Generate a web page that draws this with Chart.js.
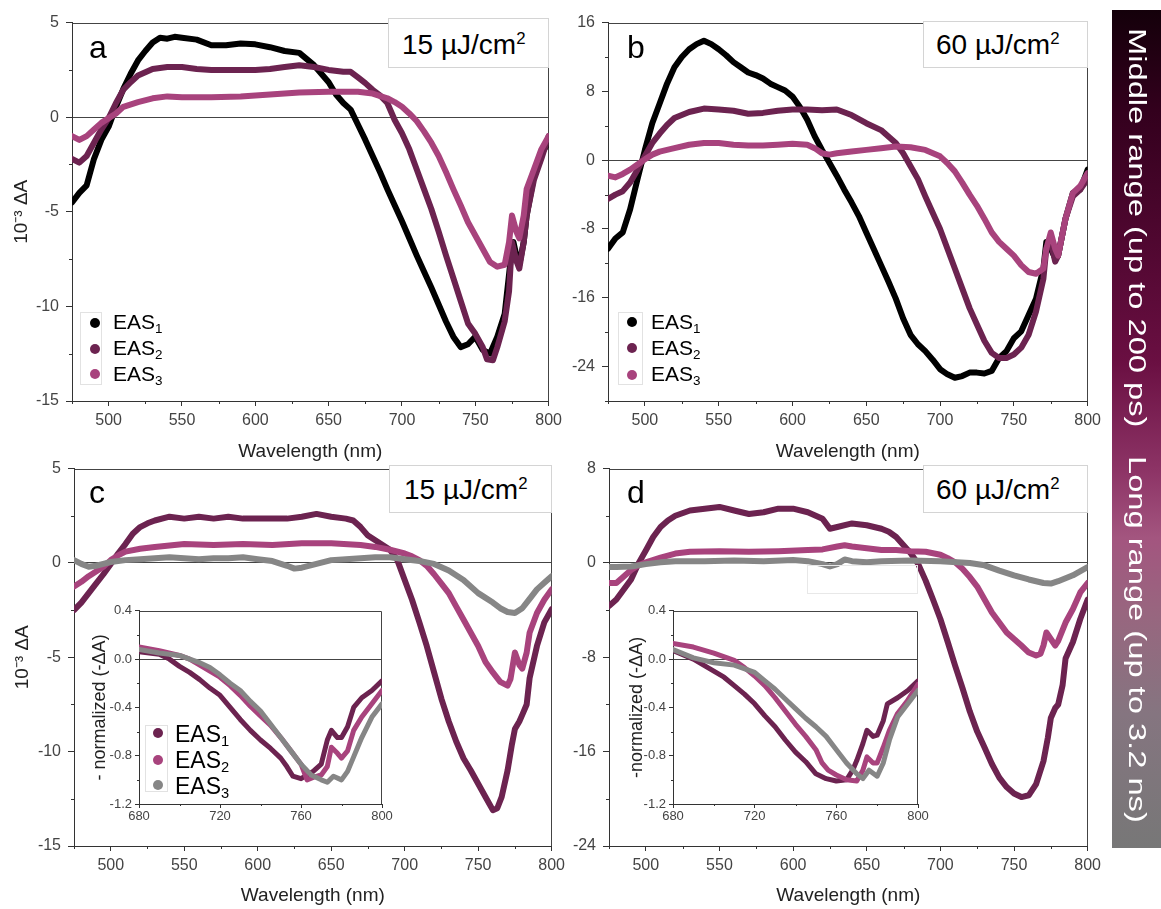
<!DOCTYPE html>
<html><head><meta charset="utf-8">
<script src="https://cdn.jsdelivr.net/npm/chart.js@4.4.1/dist/chart.umd.min.js"></script>
<style>
html,body{margin:0;padding:0;background:#fff;}
body{width:1161px;height:909px;position:relative;overflow:hidden;font-family:"Liberation Sans",Arial,sans-serif;}
canvas{position:absolute;}
.t{position:absolute;white-space:nowrap;line-height:1;color:#000;}
.box{position:absolute;box-sizing:border-box;background:#fff;}
.sub{font-size:0.64em;position:relative;top:0.28em;}
.sup{font-size:0.6em;position:relative;top:-0.62em;}
.dot{position:absolute;width:10px;height:10px;border-radius:50%;}
#cbar{position:absolute;left:1112px;top:10px;width:49px;height:838px;
 background:linear-gradient(to bottom,#14000a 0%,#33001d 12%,#540833 30%,#6a0f42 42%,#8d3466 55%,#a3557f 63%,#98667f 72%,#857580 84%,#777777 100%);}
.vt{position:absolute;writing-mode:vertical-rl;color:#fff;font-family:"Liberation Sans",Arial,sans-serif;font-size:23px;line-height:30px;width:30px;white-space:nowrap;transform-origin:50% 0;transform:scaleY(1.42);}
</style></head><body>
<script>
// ---------------- DATA ----------------
// Panel a (15 uJ/cm2, middle range)
const aX1=[475,480,485,490,495,500,505,510,515,520,525,530,535,540,545,550,560,570,580,590,600,610,620,630,640,650,655,660,665,670,675,680,685,690,695,700,705,710,715,720,725,730,735,740,745,750,755,760,765,770,772,774,776,778,780,783,785,790,795,800];
const aY1=[-4.5,-4.0,-3.6,-2.2,-1.2,-0.5,0.55,1.5,2.3,3.0,3.5,3.95,4.2,4.15,4.25,4.2,4.1,3.8,3.8,3.9,3.85,3.7,3.5,3.4,2.75,1.85,1.2,0.75,0.4,-0.4,-1.2,-2.05,-2.9,-3.8,-4.65,-5.5,-6.4,-7.3,-8.15,-9.0,-9.9,-10.8,-11.6,-12.15,-12.0,-11.6,-12.3,-12.5,-11.6,-10.4,-9.0,-7.6,-6.6,-7.3,-7.8,-6.6,-5.2,-3.1,-1.9,-1.35];
const aX2=[475,480,485,490,495,500,505,510,515,520,530,540,550,560,570,580,590,600,610,620,630,640,650,660,665,670,675,680,685,690,695,700,705,710,715,720,725,730,735,740,745,750,755,758,762,765,770,773,775,778,780,783,785,790,795,800];
const aY2=[-2.2,-2.4,-2.05,-1.35,-0.65,-0.05,0.75,1.45,1.85,2.2,2.55,2.65,2.65,2.55,2.5,2.5,2.5,2.5,2.55,2.65,2.75,2.65,2.5,2.4,2.4,2.1,1.8,1.45,1.15,0.75,-0.15,-0.85,-1.7,-2.75,-3.8,-4.85,-6.05,-7.3,-8.5,-9.7,-10.9,-11.45,-12.15,-12.8,-12.85,-12.15,-10.8,-9.2,-6.6,-7.6,-8.0,-6.6,-5.2,-3.3,-2.2,-1.0];
const aX3=[475,480,485,490,495,500,505,510,520,530,540,550,570,590,610,630,650,670,680,690,695,700,705,710,715,720,725,730,735,740,745,750,755,760,765,770,773,775,778,780,783,785,790,795,800];
const aY3=[-1.0,-1.2,-1.0,-0.65,-0.3,-0.05,0.2,0.55,0.8,1.0,1.1,1.05,1.05,1.1,1.2,1.3,1.35,1.35,1.25,1.0,0.8,0.55,0.2,-0.2,-0.75,-1.35,-2.05,-2.9,-3.8,-4.65,-5.55,-6.25,-6.95,-7.65,-7.9,-7.8,-6.6,-5.2,-6.05,-6.4,-5.2,-3.8,-2.75,-1.7,-1.0];
// Panel b (60 uJ/cm2, middle range)
const bX1=[475,480,485,490,495,500,505,510,515,520,525,530,535,540,545,550,555,560,565,570,575,580,585,590,595,600,605,610,615,620,625,630,635,640,645,650,655,660,665,670,675,680,685,690,695,700,705,710,715,720,725,730,735,740,745,750,755,760,765,770,772,775,778,780,785,790,795,800];
const bY1=[-10.3,-9.1,-8.4,-5.7,-2.2,1.2,4.3,6.6,8.9,10.8,12.0,12.9,13.5,13.9,13.5,12.9,12.2,11.4,10.8,10.2,9.9,9.5,8.9,8.5,8.1,7.4,6.2,4.7,2.8,1.2,-0.3,-1.8,-3.4,-4.9,-6.5,-8.4,-10.3,-12.2,-14.1,-16.1,-18.4,-20.3,-21.4,-22.2,-23.2,-24.3,-24.9,-25.3,-25.1,-24.7,-24.7,-24.8,-24.5,-23.0,-22.2,-20.7,-19.9,-18.0,-16.1,-12.6,-9.5,-10.3,-11.4,-11.1,-6.8,-3.8,-3.4,-1.1];
const bX2=[475,480,485,490,495,500,505,510,515,520,530,540,550,560,570,580,590,600,610,620,630,640,650,660,670,675,680,685,690,695,700,705,710,715,720,725,730,735,740,745,750,755,760,765,770,772,775,778,780,785,790,795,800];
const bY2=[-4.5,-4.0,-3.6,-2.6,-1.1,0.5,2.0,3.1,4.1,4.9,5.6,6.0,5.9,5.75,5.4,5.5,5.75,5.9,5.9,5.8,5.9,5.25,4.3,3.5,2.0,0.8,-0.7,-2.2,-4.2,-6.1,-8.0,-10.3,-12.6,-14.9,-17.2,-19.1,-21.0,-22.4,-23.0,-23.0,-22.6,-21.8,-20.3,-17.6,-13.8,-10.3,-9.5,-11.8,-11.1,-6.8,-4.2,-3.4,-2.2];
const bX3=[475,480,485,490,495,500,505,510,520,530,540,550,560,570,580,590,600,610,615,620,625,630,640,650,660,670,680,690,700,705,710,715,720,725,730,735,740,745,750,755,760,765,770,772,775,778,780,785,790,795,800];
const bY3=[-1.8,-2.0,-1.6,-1.1,-0.5,0.1,0.65,1.0,1.4,1.8,2.0,2.0,1.8,1.7,1.7,1.8,1.9,1.8,1.4,0.8,0.65,0.8,1.0,1.2,1.4,1.6,1.5,1.2,0.45,-0.35,-1.3,-2.6,-4.0,-5.3,-6.8,-8.4,-9.5,-10.3,-11.1,-12.2,-13.0,-13.2,-12.6,-10.3,-8.4,-10.3,-11.1,-6.8,-3.8,-3.0,-1.5];
// Panel c (15 uJ/cm2, long range)
const cX1=[475,480,485,490,495,500,505,510,515,520,525,530,540,550,560,570,580,590,600,610,620,630,640,650,660,665,670,675,680,685,690,695,700,705,710,715,720,725,730,735,740,745,750,755,760,763,766,770,773,775,778,780,783,785,790,795,800];
const cY1=[-2.5,-2.1,-1.6,-1.1,-0.6,-0.05,0.5,1.0,1.55,1.9,2.1,2.25,2.45,2.35,2.45,2.35,2.45,2.35,2.35,2.35,2.35,2.45,2.6,2.45,2.35,2.25,1.9,1.45,1.2,0.95,0.7,0.15,-0.9,-1.95,-3.15,-4.4,-5.8,-7.2,-8.4,-9.45,-10.35,-11.0,-11.7,-12.4,-13.1,-13.0,-12.4,-11.0,-9.6,-8.8,-8.4,-8.05,-7.5,-6.1,-4.4,-3.15,-2.45];
const cX2=[475,480,485,490,495,500,505,510,520,530,550,570,590,610,630,650,670,680,690,700,705,710,715,720,725,730,735,740,745,750,755,760,765,770,772,775,778,780,783,785,790,795,800];
const cY2=[-1.25,-1.0,-0.7,-0.45,-0.2,0.15,0.4,0.6,0.75,0.85,1.0,0.95,1.0,0.95,1.05,1.05,0.95,0.85,0.7,0.5,0.35,0.15,-0.15,-0.6,-1.1,-1.6,-2.3,-3.0,-3.7,-4.4,-5.25,-5.8,-6.3,-6.5,-6.15,-4.75,-5.4,-5.6,-4.75,-3.7,-2.65,-1.95,-1.4];
const cX3=[475,480,485,490,495,500,510,520,530,540,550,560,570,580,590,600,610,620,625,630,640,650,660,670,680,690,700,710,720,730,740,750,760,765,770,775,780,785,790,795,800];
const cY3=[0.15,-0.05,-0.2,-0.15,-0.05,0.05,0.15,0.2,0.25,0.3,0.25,0.2,0.25,0.25,0.3,0.2,0.1,-0.15,-0.3,-0.25,-0.05,0.15,0.2,0.25,0.3,0.3,0.2,0.1,-0.05,-0.4,-0.9,-1.6,-2.1,-2.4,-2.6,-2.65,-2.4,-1.9,-1.4,-1.05,-0.7];
// Panel d (60 uJ/cm2, long range)
const dX1=[475,480,485,490,495,500,505,510,515,520,530,540,550,560,570,580,590,600,610,620,625,630,640,650,660,665,670,675,680,685,690,695,700,705,710,715,720,725,730,735,740,745,750,755,760,765,770,773,775,778,780,783,785,790,795,800];
const dY1=[-3.65,-3.1,-2.25,-1.4,-0.05,1.05,2.2,3.05,3.6,4.0,4.45,4.6,4.75,4.45,4.15,4.3,4.6,4.6,4.3,3.75,2.9,3.05,3.35,3.2,2.9,2.65,2.2,1.5,0.8,-0.1,-1.5,-3.1,-4.75,-6.7,-8.7,-10.6,-12.6,-14.3,-15.65,-17.05,-18.2,-19.0,-19.55,-19.85,-19.7,-18.75,-16.8,-14.8,-13.15,-12.3,-12.0,-10.35,-8.1,-6.7,-4.75,-3.1];
const dX2=[475,480,485,490,495,500,510,520,530,550,570,590,610,620,630,635,640,650,660,670,680,690,700,705,710,715,720,725,730,735,740,745,750,755,760,765,768,770,772,775,778,780,785,790,795,800];
const dY2=[-1.7,-1.7,-1.15,-0.6,-0.2,0.05,0.45,0.8,0.95,1.0,0.95,1.0,1.1,1.15,1.4,1.5,1.4,1.25,1.1,1.1,1.0,0.95,0.7,0.4,0.05,-0.5,-1.2,-2.0,-3.1,-4.2,-5.05,-5.9,-6.45,-7.0,-7.6,-7.85,-7.7,-7.0,-5.9,-6.45,-7.0,-6.6,-5.05,-3.9,-2.5,-1.7];
const dX3=[475,480,490,500,510,520,540,560,580,600,610,620,625,630,635,640,650,660,680,700,720,730,740,750,760,770,775,780,785,790,800];
const dY3=[-0.35,-0.35,-0.3,-0.1,0.05,0.15,0.15,0.2,0.15,0.25,0.15,-0.1,-0.3,-0.1,0.3,0.15,0.05,0.15,0.2,0.15,0.0,-0.2,-0.65,-1.05,-1.4,-1.7,-1.75,-1.55,-1.3,-1.05,-0.35];
// Inset of c (normalized)
const icX1=[680,690,695,700,705,710,715,720,725,730,735,740,745,750,753,756,760,763,766,770,773,775,778,780,783,786,790,795,800];
const icY1=[0.06,0.04,0.0,-0.06,-0.11,-0.17,-0.24,-0.3,-0.4,-0.5,-0.59,-0.67,-0.74,-0.82,-0.89,-0.97,-0.99,-0.96,-0.93,-0.87,-0.67,-0.59,-0.65,-0.65,-0.56,-0.4,-0.32,-0.26,-0.18];
const icX2=[680,690,700,705,710,715,720,725,730,735,740,745,750,755,760,763,766,770,773,775,778,780,783,786,790,795,800];
const icY2=[0.1,0.07,0.03,0.0,-0.05,-0.1,-0.15,-0.22,-0.3,-0.39,-0.47,-0.55,-0.65,-0.76,-0.87,-1.0,-0.98,-0.96,-0.89,-0.73,-0.78,-0.82,-0.76,-0.59,-0.48,-0.37,-0.26];
const icX3=[680,690,700,705,710,715,720,725,730,735,740,745,750,755,760,765,770,773,776,780,783,786,790,795,800];
const icY3=[0.08,0.05,0.03,0.0,-0.03,-0.07,-0.13,-0.2,-0.26,-0.35,-0.43,-0.54,-0.65,-0.76,-0.87,-0.96,-1.0,-1.02,-0.97,-1.0,-0.93,-0.81,-0.65,-0.48,-0.37];
// Inset of d (normalized)
const idX1=[680,690,700,705,710,715,720,725,730,735,740,745,750,755,760,765,768,770,773,775,778,780,783,785,790,795,800];
const idY1=[0.07,0.0,-0.1,-0.15,-0.22,-0.29,-0.37,-0.47,-0.56,-0.67,-0.77,-0.85,-0.95,-0.99,-1.01,-1.0,-0.92,-0.84,-0.7,-0.59,-0.64,-0.63,-0.51,-0.37,-0.32,-0.26,-0.18];
const idX2=[680,690,700,710,715,720,725,730,735,740,745,750,753,756,760,765,770,773,775,778,780,783,786,790,795,800];
const idY2=[0.13,0.1,0.05,-0.01,-0.07,-0.14,-0.22,-0.32,-0.43,-0.54,-0.64,-0.75,-0.86,-0.92,-0.96,-1.0,-1.01,-0.92,-0.81,-0.86,-0.86,-0.73,-0.59,-0.45,-0.34,-0.21];
const idX3=[680,690,700,710,720,725,730,735,740,745,750,755,760,765,770,773,776,780,783,786,790,795,800];
const idY3=[0.08,0.01,-0.03,-0.05,-0.11,-0.18,-0.25,-0.33,-0.41,-0.49,-0.56,-0.64,-0.75,-0.86,-0.95,-0.99,-0.92,-0.97,-0.86,-0.67,-0.48,-0.37,-0.26];

// Labels / ticks
const seriesNames=['EAS','EAS','EAS']; const seriesSubs=['1','2','3'];
const fluenceLow='15 µJ/cm', fluenceHigh='60 µJ/cm';
const panelLetters=['a','b','c','d'];
const xTitle='Wavelength (nm)';
const yTitleMain='10\u207B\u00B3 \u0394A';
const yTitleInsetC='- normalized (-\u0394A)';
const yTitleInsetD='-normalized (-\u0394A)';
const barTexts=['Middle range (up to 200 ps)','Long range (up to 3.2 ns)'];

const BLACK='#000000', MAROON='#6c2350', PINK='#a8437d', GRAY='#868686';
const FONT='"Liberation Sans", Arial, sans-serif';
Chart.defaults.font.family=FONT;

function isMajor(v,step){const r=v/step;return Math.abs(r-Math.round(r))<1e-6;}
function fmt(v,dec){const r=Math.round(v*1000)/1000;return dec?(Math.abs(r)<1e-9?0:r).toFixed(dec):String(r);}

const framePlugin={id:'frame',beforeDatasetsDraw(chart){
  const ca=chart.chartArea,ctx=chart.ctx;ctx.save();ctx.strokeStyle='#444';ctx.lineWidth=1;
  ctx.beginPath();ctx.moveTo(Math.round(ca.left)+0.5,Math.round(ca.top)+0.5);ctx.lineTo(Math.round(ca.right)-0.5,Math.round(ca.top)+0.5);
  ctx.lineTo(Math.round(ca.right)-0.5,Math.round(ca.bottom));ctx.stroke();ctx.restore();}};
const whitePlugin={id:'whitebg',beforeDraw(chart,args,o){if(!o.on)return;const ca=chart.chartArea,ctx=chart.ctx;ctx.save();ctx.fillStyle='#fff';ctx.fillRect(ca.left,ca.top,ca.right-ca.left,ca.bottom-ca.top);ctx.restore();}};
const minorPlugin={id:'minor',afterDraw(chart,args,o){
  const ca=chart.chartArea,ctx=chart.ctx,xs=chart.scales.x,ys=chart.scales.y;ctx.save();ctx.strokeStyle='#333';ctx.lineWidth=1;
  xs.ticks.forEach(t=>{if(!isMajor(t.value,o.xMajor)){const p=Math.round(xs.getPixelForValue(t.value))+0.5;ctx.beginPath();ctx.moveTo(p,ca.bottom);ctx.lineTo(p,ca.bottom+o.len);ctx.stroke();}});
  ys.ticks.forEach(t=>{if(!isMajor(t.value,o.yMajor)){const p=Math.round(ys.getPixelForValue(t.value))+0.5;ctx.beginPath();ctx.moveTo(ca.left,p);ctx.lineTo(ca.left-o.len,p);ctx.stroke();}});
  ctx.restore();}};

function makePanel(s){
  const A=s.area;const cv=document.createElement('canvas');
  const w=s.yW+(A.R-A.L)+s.pR, h=s.pT+(A.B-A.T)+s.xH;
  cv.width=w;cv.height=h;cv.style.left=(A.L-s.yW)+'px';cv.style.top=(A.T-s.pT)+'px';cv.style.width=w+'px';cv.style.height=h+'px';
  document.body.appendChild(cv);
  const ds=s.sets.map((d,i)=>({data:d.xs.map((v,k)=>({x:v,y:d.ys[k]})),borderColor:d.color,backgroundColor:d.color,borderWidth:s.lw,
    pointRadius:0,tension:0,borderJoinStyle:'round',borderCapStyle:'round',fill:false,order:s.sets.length-i}));
  new Chart(cv,{type:'line',data:{datasets:ds},
    options:{responsive:false,animation:false,events:[],devicePixelRatio:1,
      layout:{padding:{top:s.pT,right:s.pR,left:0,bottom:0}},
      plugins:{legend:{display:false},tooltip:{enabled:false},minor:{xMajor:s.x.major,yMajor:s.y.major,len:s.minorLen},whitebg:{on:!!s.white}},
      scales:{
        x:{type:'linear',min:s.x.min,max:s.x.max,
          ticks:{stepSize:s.x.step,autoSkip:false,maxRotation:0,minRotation:0,color:'#444',font:{size:s.fs},padding:s.x.pad,
            callback:v=>isMajor(v,s.x.major)?fmt(v,0):''},
          grid:{drawOnChartArea:false,tickLength:s.x.tl,tickColor:c=>(c.tick&&isMajor(c.tick.value,s.x.major))?'#333':'rgba(0,0,0,0)'},
          border:{display:true,color:'#333',width:1},
          title:{display:!!s.xTitle,text:s.xTitle||'',color:'#222',font:{size:19},padding:{top:0,bottom:2}},
          afterFit:sc=>{sc.height=s.xH;}},
        y:{type:'linear',min:s.y.min,max:s.y.max,
          ticks:{stepSize:s.y.step,autoSkip:false,color:'#444',font:{size:s.fs},padding:s.y.pad,
            callback:v=>isMajor(v,s.y.major)?fmt(v,s.y.dec):''},
          grid:{drawOnChartArea:true,tickLength:s.y.tl,
            color:c=>(c.tick&&Math.abs(c.tick.value)<1e-9)?'#444':'rgba(0,0,0,0)',
            tickColor:c=>(c.tick&&isMajor(c.tick.value,s.y.major))?'#333':'rgba(0,0,0,0)'},
          border:{display:true,color:'#333',width:1},
          title:{display:!!s.yTitle,text:s.yTitle||'',color:'#222',font:{size:s.yTitleSize||19},padding:{top:s.yTitlePad||0,bottom:0}},
          afterFit:sc=>{sc.width=s.yW;}}
      }},
    plugins:[whitePlugin,framePlugin,minorPlugin]});
}

const xMain={min:475,max:800,step:25,major:50,pad:5,tl:5};
const xInset={min:680,max:800,step:20,major:40,pad:1,tl:4};
const yInset={min:-1.2,max:0.4,step:0.2,major:0.4,pad:3,tl:4,dec:1};

makePanel({area:{L:72,T:18,R:549,B:401},yW:72,xH:64,pT:12,pR:18,fs:16,lw:6,minorLen:3,x:xMain,
  y:{min:-15,max:5,step:2.5,major:5,pad:7,tl:6},xTitle:xTitle,yTitle:yTitleMain,yTitlePad:10,
  sets:[{xs:aX1,ys:aY1,color:BLACK},{xs:aX2,ys:aY2,color:MAROON},{xs:aX3,ys:aY3,color:PINK}]});
makePanel({area:{L:608,T:18,R:1088,B:401},yW:60,xH:64,pT:12,pR:18,fs:16,lw:6,minorLen:3,x:xMain,
  y:{min:-28,max:16,step:4,major:8,pad:7,tl:6},xTitle:xTitle,
  sets:[{xs:bX1,ys:bY1,color:BLACK},{xs:bX2,ys:bY2,color:MAROON},{xs:bX3,ys:bY3,color:PINK}]});
makePanel({area:{L:74,T:464,R:552,B:846},yW:74,xH:63,pT:12,pR:18,fs:16,lw:6,minorLen:3,x:xMain,
  y:{min:-15,max:5,step:2.5,major:5,pad:7,tl:6},xTitle:xTitle,yTitle:yTitleMain,yTitlePad:11,
  sets:[{xs:cX1,ys:cY1,color:MAROON},{xs:cX2,ys:cY2,color:PINK},{xs:cX3,ys:cY3,color:GRAY}]});
makePanel({area:{L:609,T:464,R:1088,B:846},yW:60,xH:63,pT:12,pR:18,fs:16,lw:6,minorLen:3,x:xMain,
  y:{min:-24,max:8,step:4,major:8,pad:7,tl:6},xTitle:xTitle,
  sets:[{xs:dX1,ys:dY1,color:MAROON},{xs:dX2,ys:dY2,color:PINK},{xs:dX3,ys:dY3,color:GRAY}]});
makePanel({area:{L:139,T:609,R:382,B:804},yW:50,xH:24,pT:9,pR:14,fs:13,lw:5,minorLen:2,x:xInset,y:yInset,white:true,
  yTitle:yTitleInsetC,yTitleSize:18,yTitlePad:0,
  sets:[{xs:icX1,ys:icY1,color:MAROON},{xs:icX2,ys:icY2,color:PINK},{xs:icX3,ys:icY3,color:GRAY}]});
makePanel({area:{L:673,T:609,R:918,B:804},yW:50,xH:24,pT:9,pR:14,fs:13,lw:5,minorLen:2,x:xInset,y:yInset,white:true,
  yTitle:yTitleInsetD,yTitleSize:18,yTitlePad:3,
  sets:[{xs:idX1,ys:idY1,color:MAROON},{xs:idX2,ys:idY2,color:PINK},{xs:idX3,ys:idY3,color:GRAY}]});

// ---------------- HTML annotations ----------------
function el(cls,css,html){const d=document.createElement('div');d.className=cls;Object.assign(d.style,css);if(html!==undefined)d.innerHTML=html;document.body.appendChild(d);return d;}
function text(x,baseline,size,html,color){return el('t',{left:x+'px',top:(baseline-0.8465*size)+'px',fontSize:size+'px',color:color||'#000'},html);}
// faint blank box in d
el('box',{left:'807px',top:'565px',width:'111px',height:'29px',border:'1px solid #e8e8e8',background:'transparent'});
// fluence boxes
[[388,18,161,50,402,55,fluenceLow],[923,21,165,47,936,55,fluenceHigh],[389,465,163,48,404,500,fluenceLow],[923,465,165,48,936,500,fluenceHigh]].forEach(b=>{
  el('box',{left:b[0]+'px',top:b[1]+'px',width:b[2]+'px',height:b[3]+'px',border:'1px solid #d4d4d4'});
  text(b[4],b[5],28,b[6]+'<span class="sup">2</span>');
});
// panel letters
text(89,58,32,panelLetters[0]);text(627,58,32,panelLetters[1]);text(89,503,32,panelLetters[2]);text(627,503,32,panelLetters[3]);
// legends
function legend(box,mx,tx,rows,fs,colors){
  el('box',{left:box[0]+'px',top:box[1]+'px',width:(box[2]-box[0])+'px',height:(box[3]-box[1])+'px',border:'1px solid #e2e2e2'});
  rows.forEach((r,i)=>{el('dot',{left:(mx-5)+'px',top:(r[0]-5)+'px',background:colors[i]});
    text(tx,r[1],fs,seriesNames[i]+'<span class="sub">'+seriesSubs[i]+'</span>');});
}
legend([80,312,102,385],95,113,[[323,329],[349,355],[374,381]],21,[BLACK,MAROON,PINK]);
legend([618,312,643,385],632,651,[[322,329],[348,355],[375,381]],21,[BLACK,MAROON,PINK]);
legend([145,725,168,792],158,175,[[733,742],[760,768],[785,794]],23,[MAROON,PINK,GRAY]);
// colour bar
const cb=document.createElement('div');cb.id='cbar';document.body.appendChild(cb);
el('vt',{left:'1122px',top:'28px'},barTexts[0]);
el('vt',{left:'1122px',top:'456px'},barTexts[1]);
</script>
</body></html>
